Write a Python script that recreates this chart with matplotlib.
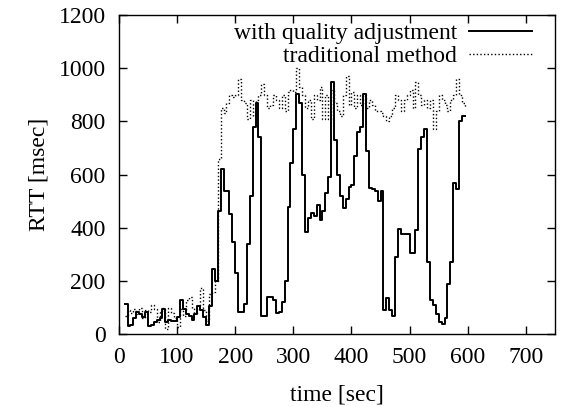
import matplotlib
matplotlib.use("Agg")
import matplotlib.pyplot as plt
import numpy as np

# time grid (sec)
time_s = list(range(10, 600, 5))

with_quality = [
    115, 30, 35, 60, 85, 75, 65, 85, 30, 35,
    45, 55, 60, 95, 45, 55, 50, 50, 65, 130,
    95, 75, 70, 55, 75, 105, 90, 65, 35, 105,
    245, 200, 465, 620, 540, 540, 450, 345, 230, 85,
    85, 115, 340, 520, 780, 870, 740, 70, 70, 140,
    140, 130, 80, 85, 120, 200, 480, 645, 770, 905,
    870, 600, 385, 435, 455, 445, 485, 430, 465, 530,
    590, 950, 730, 600, 520, 475, 510, 555, 560, 670,
    760, 780, 905, 690, 550, 545, 540, 500, 540, 90,
    135, 90, 70, 290, 395, 375, 375, 375, 305, 305,
    390, 695, 740, 770, 270, 130, 110, 75, 45, 40,
    60, 190, 270, 570, 545, 800, 820, 820,
]

traditional = [
    70, 90, 80, 95, 75, 100, 60, 90, 85, 110,
    95, 45, 85, 100, 20, 100, 80, 60, 25, 95,
    70, 130, 140, 100, 80, 110, 175, 90, 50, 150,
    160, 200, 660, 850, 830, 870, 900, 890, 900, 960,
    880, 870, 810, 880, 820, 880, 900, 940, 900, 850,
    860, 900, 880, 850, 900, 840, 910, 920, 910, 1000,
    930, 900, 850, 880, 810, 900, 880, 930, 810, 900,
    810, 920, 870, 840, 820, 900, 970, 860, 910, 850,
    900, 860, 900, 850, 880, 860, 840, 840, 830, 820,
    800, 820, 850, 900, 880, 840, 880, 900, 920, 850,
    950, 900, 860, 880, 850, 880, 770, 840, 900, 880,
    860, 840, 880, 900, 960, 900, 870, 850,
]

x_ticks = [0, 100, 200, 300, 400, 500, 600, 700]
y_ticks = [0, 200, 400, 600, 800, 1000, 1200]

plt.rcParams['font.family'] = ['Liberation Serif', 'DejaVu Serif']
fs = 17

fig = plt.figure(figsize=(5.63, 4.07), dpi=100)
ax = fig.add_axes([0.211, 0.179, 0.775, 0.784])

ax.step(time_s, with_quality, where='post', color='black', lw=1.4,
        label='with quality adjustment')
ax.step(time_s, traditional, where='post', color='black', lw=1.0,
        linestyle=(0, (1, 1.6)), label='traditional method')

ax.set_xlim(0, 750)
ax.set_ylim(0, 1200)
ax.set_xticks(x_ticks)
ax.set_yticks(y_ticks)
ax.tick_params(direction='in', length=6, width=1, top=True, right=True,
               labelsize=fs, pad=9.5)
for s in ax.spines.values():
    s.set_linewidth(1.0)

ax.set_xlabel('time [sec]', fontsize=fs, labelpad=11.5)
ax.set_ylabel('RTT [msec]', fontsize=fs, labelpad=6.5)

leg = ax.legend(loc='upper right', frameon=False, markerfirst=False,
                fontsize=fs, handlelength=2.67, borderaxespad=0.0,
                borderpad=0.25, labelspacing=0.07, handletextpad=0.5,
                bbox_to_anchor=(0.961, 0.995))
for t in leg.get_texts():
    t.set_ha('right')

fig.savefig('out.png', dpi=100)
